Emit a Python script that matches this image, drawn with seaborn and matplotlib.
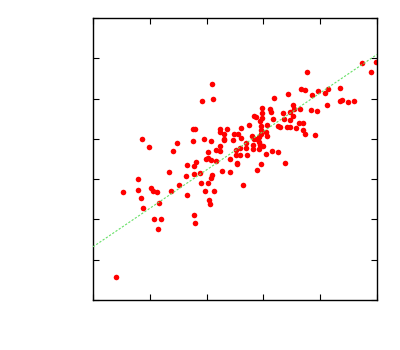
import numpy as np
import pandas as pd
import matplotlib
matplotlib.use('Agg')
import matplotlib.pyplot as plt
import seaborn as sns

# values (x axis 0..5, y axis 0..7, no tick labels)
x_vals = [0.41, 0.52, 0.80, 0.80, 0.85, 0.86, 0.88, 0.98, 1.02, 1.05,
          1.12, 1.08, 1.14, 1.16, 1.20, 1.33, 1.41, 1.38, 1.48, 1.52,
          1.63, 1.65, 1.66, 1.77, 1.77, 1.81, 1.77, 1.80, 1.88, 1.90,
          1.97, 1.99, 2.03, 2.02, 2.03, 2.05, 2.06, 2.07, 2.10, 2.08,
          2.13, 2.17, 2.16, 2.23, 2.24, 2.27, 2.42, 2.41, 2.10, 1.92,
          2.11, 1.76, 1.79, 1.76, 1.96, 2.08, 2.24, 2.23, 2.36, 2.31,
          2.31, 2.31, 2.47, 2.51, 2.51, 2.54, 2.54, 2.58, 2.49, 2.56,
          2.61, 2.59, 2.61, 2.64, 2.70, 2.71, 2.69, 2.75, 2.80, 2.83,
          2.88, 2.81, 2.82, 2.83, 2.87, 2.89, 2.93, 2.94, 3.00, 2.92,
          2.92, 2.95, 3.04, 3.15, 3.25, 3.38, 2.98, 3.12, 3.14, 2.97,
          2.98, 2.94, 2.95, 2.95, 2.96, 3.05, 3.06, 3.07, 3.17, 3.26,
          3.29, 3.41, 3.46, 3.36, 3.47, 3.52, 3.18, 3.44, 3.52, 3.54,
          3.46, 3.35, 3.63, 3.69, 3.57, 3.70, 3.74, 3.91, 3.67, 3.74,
          3.77, 3.86, 3.97, 4.09, 4.14, 4.34, 3.83, 3.94, 3.64, 4.12,
          4.35, 4.38, 4.49, 4.60, 4.74, 4.98, 4.89]
y_vals = [0.56, 2.68, 3.00, 2.72, 2.54, 4.00, 2.28, 3.80, 2.79, 2.70,
          2.68, 2.00, 1.75, 2.40, 2.01, 3.17, 3.70, 2.70, 3.89, 2.86,
          3.09, 2.61, 3.34, 3.32, 3.13, 3.43, 2.10, 1.92, 3.15, 2.91,
          2.70, 3.50, 3.52, 3.68, 2.90, 2.48, 2.38, 3.04, 3.11, 3.47,
          2.71, 3.44, 3.73, 3.71, 3.82, 3.20, 3.18, 3.49, 5.35, 4.93,
          4.98, 4.24, 4.24, 3.95, 3.99, 3.95, 4.24, 4.16, 4.24, 4.11,
          4.00, 3.96, 3.96, 3.72, 3.59, 3.41, 3.37, 3.78, 4.11, 4.11,
          4.28, 3.61, 4.03, 2.85, 3.77, 3.59, 3.89, 4.34, 4.06, 3.99,
          3.99, 3.85, 3.74, 4.56, 4.55, 3.23, 4.05, 3.85, 3.83, 3.93,
          3.74, 3.37, 3.62, 3.69, 3.67, 3.41, 4.77, 4.74, 4.67, 4.64,
          4.52, 4.44, 4.33, 4.23, 4.12, 4.18, 4.08, 4.34, 4.50, 4.31,
          4.30, 4.29, 4.29, 4.50, 4.48, 4.56, 5.02, 5.12, 4.83, 4.73,
          4.66, 4.65, 4.40, 4.39, 4.26, 4.21, 4.11, 4.10, 5.23, 5.22,
          5.65, 5.09, 5.18, 5.14, 5.23, 5.27, 4.72, 4.68, 4.73, 4.84,
          4.95, 4.96, 4.91, 4.93, 5.89, 5.90, 5.65]

# fitted line: y = intercept + slope * x
fit_intercept = 1.32
fit_slope = 0.955

x_ticks = [0, 1, 2, 3, 4, 5]
y_ticks = [0, 1, 2, 3, 4, 5, 6, 7]

df = pd.DataFrame({'x': x_vals, 'y': y_vals})
fit_x = np.array([x_ticks[0], x_ticks[-1]])
fit = pd.DataFrame({'x': fit_x, 'y': fit_intercept + fit_slope * fit_x})

sns.set_style('white')
fig = plt.figure(figsize=(4, 3.5), dpi=100)
ax = fig.add_axes([0.2325, 0.1429, 0.71, 0.8057])

sns.scatterplot(data=df, x='x', y='y', ax=ax, color='red', s=16,
                linewidth=0, zorder=2)
sns.lineplot(data=fit, x='x', y='y', ax=ax, color='#66e066', lw=0.8,
             ls=(0, (2, 1.5)), zorder=3)

ax.set_xlim(0, 5)
ax.set_ylim(0, 7)
ax.set_xticks(x_ticks)
ax.set_yticks(y_ticks)
ax.tick_params(direction='in', length=4, width=0.8, color='black',
               top=True, right=True, bottom=True, left=True,
               labelbottom=False, labelleft=False)
ax.set_xlabel('')
ax.set_ylabel('')
for s in ax.spines.values():
    s.set_color('black')
    s.set_linewidth(1)

fig.savefig('out.png', dpi=100)
